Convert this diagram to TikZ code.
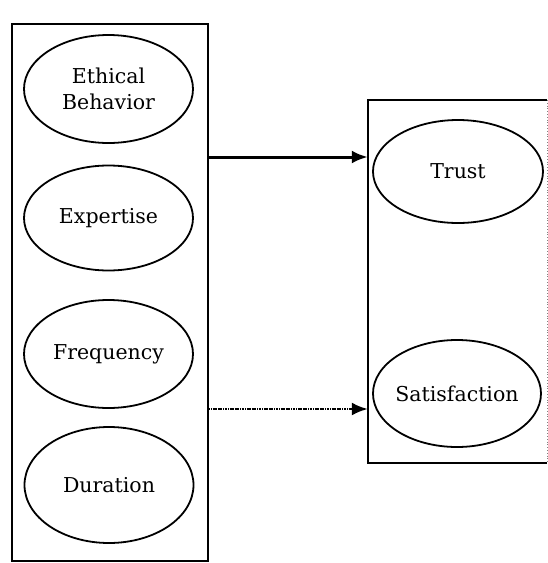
\documentclass[tikz,border=0pt]{standalone}
\usepackage{fontspec}
\setmainfont{DejaVu Serif}
\usetikzlibrary{shapes.geometric,arrows.meta}
\begin{document}
\begin{tikzpicture}[x=1pt,y=-1pt,
  construct/.style={draw, ellipse, line width=1.8pt, inner sep=0pt,
    minimum width=169pt, align=center,
    font=\fontsize{20.5}{23}\selectfont},
  panel/.style={draw, line width=2.4pt, rectangle, inner sep=0pt},
  link/.style={line width=3pt, -{Latex[length=16pt,width=13pt]}}]
\useasboundingbox (0,0) rectangle (548,563);

% left panel with the four antecedents
\node[panel, minimum width=196pt, minimum height=537pt] (left) at (110,292.5) {};
\node[construct, minimum height=108pt] (eth) at (108.5,89) {Ethical\\[3pt]Behavior};
\node[construct, minimum height=105pt] (exp) at (108.5,218) {Expertise};
\node[construct, minimum height=108pt] (fre) at (108.5,354) {Frequency};
\node[construct, minimum height=116pt] (dur) at (109,485) {Duration};

% right panel with the two outcomes
\draw[line width=2.4pt] (547,100) -- (368,100) -- (368,463) -- (547,463);
\draw[gray, line width=0.8pt, dotted] (547,100) -- (547,463);
\node[inner sep=0pt, minimum width=179pt, minimum height=363pt] (right) at (457.5,281.5) {};
\node[construct, minimum width=170pt, minimum height=103pt] (tru) at (458,171.5) {Trust};
\node[construct, inner xsep=-20pt, minimum width=168pt, minimum height=107pt] (sat) at (457,393.5) {Satisfaction};

% connectors between the panels
\coordinate (o1) at (left.east |- 0,157);
\coordinate (o2) at (left.east |- 0,409);
\coordinate (i1) at (right.west |- o1);
\coordinate (i2) at (right.west |- o2);
\draw[link] (o1) -- (i1);
\draw[link, line width=2.4pt, dash pattern=on 1.2pt off 0.5pt] (o2) -- (i2);
\end{tikzpicture}
\end{document}
